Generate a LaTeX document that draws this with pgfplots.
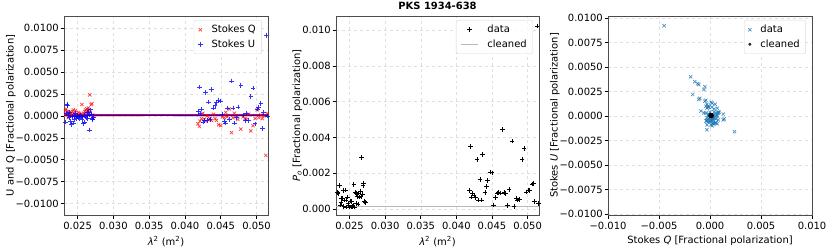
\documentclass[border=0pt]{standalone}
\usepackage{fontspec}
\setmainfont{DejaVu Sans}
\usepackage{pgfplots}
\usepackage{pgfplotstable}
\pgfplotsset{compat=1.18}
\definecolor{tabblue}{HTML}{1F77B4}

\pgfplotstableread{
l Q U P
0.0233 0.0006 -0.0007 0.00092
0.0234 0.0008 0.0003 0.00085
0.0235 0.0002 0.0013 0.00132
0.0236 0.0005 0.0012 0.00130
0.0237 -0.0002 0.0001 0.00022
0.0238 0.0003 -0.0002 0.00036
0.0239 0.0004 0.0004 0.00057
0.0240 0.0000 -0.0006 0.00060
0.0241 0.0002 -0.0010 0.00102
0.0242 0.0001 -0.0001 0.00014
0.0243 0.0005 0.0000 0.00050
0.0244 0.0007 -0.0008 0.00106
0.0245 0.0003 -0.0004 0.00050
0.0246 0.0001 0.0000 0.00010
0.0247 0.0006 0.0003 0.00067
0.0248 -0.0001 -0.0003 0.00032
0.0249 0.0002 0.0001 0.00022
0.0250 0.0000 -0.0001 0.00010
0.0251 0.0004 -0.0002 0.00045
0.0252 0.0001 0.0000 0.00010
0.0253 0.0003 -0.0003 0.00042
0.0254 0.0001 0.0001 0.00014
0.0255 0.0002 0.0000 0.00020
0.0256 0.0013 -0.0004 0.00136
0.0257 0.0000 -0.0001 0.00010
0.0258 0.0001 -0.0009 0.00091
0.0259 0.0003 0.0001 0.00032
0.0260 0.0005 -0.0007 0.00086
0.0261 0.0007 0.0000 0.00070
0.0262 0.0002 -0.0002 0.00028
0.0263 0.0008 0.0004 0.00089
0.0264 0.0006 -0.0003 0.00067
0.0265 0.0009 0.0004 0.00098
0.0266 0.0007 0.0001 0.00071
0.0267 0.0024 -0.0016 0.00288
0.0268 0.0004 0.0007 0.00080
0.0269 0.0013 0.0002 0.00132
0.0270 0.0014 -0.0003 0.00143
0.0271 0.0001 -0.0004 0.00041
0.0272 -0.0003 -0.0002 0.00036
0.0418 -0.0009 0.0005 0.00103
0.0420 -0.0012 0.0033 0.00351
0.0421 -0.0006 0.0003 0.00067
0.0423 -0.0003 0.0008 0.00085
0.0425 0.0003 -0.0007 0.00076
0.0427 -0.0004 -0.0005 0.00064
0.0429 -0.0006 0.0027 0.00277
0.0431 0.0000 -0.0005 0.00050
0.0433 -0.0004 0.0016 0.00165
0.0435 -0.0003 -0.0004 0.00050
0.0437 -0.0005 0.0030 0.00304
0.0440 0.0002 0.0009 0.00092
0.0442 -0.0003 0.0012 0.00124
0.0444 -0.0005 0.0015 0.00158
0.0447 -0.0010 0.0018 0.00206
0.0450 -0.0011 0.0017 0.00202
0.0452 -0.0001 0.0002 0.00022
0.0455 -0.0002 -0.0006 0.00063
0.0457 0.0004 -0.0008 0.00089
0.0459 -0.0001 0.0009 0.00091
0.0462 0.0008 -0.0004 0.00089
0.0465 -0.0019 0.0040 0.00443
0.0467 -0.0002 0.0009 0.00092
0.0469 0.0003 -0.0008 0.00085
0.0472 0.0000 -0.0002 0.00020
0.0474 -0.0004 0.0010 0.00108
0.0478 -0.0015 0.0035 0.00381
0.0481 -0.0001 0.0001 0.00014
0.0484 -0.0003 -0.0005 0.00058
0.0486 -0.0004 0.0003 0.00050
0.0489 0.0002 -0.0005 0.00054
0.0492 -0.0017 0.0022 0.00278
0.0495 -0.0011 0.0032 0.00338
0.0498 -0.0003 -0.0009 0.00095
0.0501 0.0007 0.0008 0.00106
0.0503 -0.0002 0.0010 0.00102
0.0506 0.0001 0.0014 0.00140
0.0508 -0.0003 -0.0014 0.00143
0.0510 0.0000 0.0004 0.00040
0.0513 -0.0045 0.0092 0.01024
0.0515 0.0003 0.0000 0.00030
}\data

\pgfplotsset{
 myax/.style={
  scale only axis, width=204bp, height=199bp,
  tick pos=left, tick align=outside, major tick length=3.5bp,
  grid=major, grid style={dashed, gray!25, line width=0.5bp},
  axis line style={gray!60!black, line width=0.9bp},
  every tick/.style={black, line width=0.6bp},
  tick label style={font=\fontsize{10}{12}\selectfont},
  yticklabel style={inner xsep=1.5bp},
  label style={font=\fontsize{10}{12}\selectfont},
  ylabel style={yshift=-5bp},
  legend style={font=\fontsize{10}{12}\selectfont, draw=gray!30, rounded corners=2bp, fill=white, fill opacity=0.8, text opacity=1, at={(0.97,0.98)}, anchor=north east, row sep=1.5bp, inner xsep=4bp, inner ysep=3bp, /tikz/every odd column/.append style={column sep=7bp}},
  legend cell align=left,
  scaled ticks=false,
 }
}

\begin{document}
\begin{tikzpicture}[x=1bp,y=1bp]
\useasboundingbox (0,0) rectangle (830,249);
% Panel 1
\begin{axis}[myax, at={(64bp,34bp)}, anchor=south west,
  xmin=0.0231, xmax=0.0516, ymin=-0.0113, ymax=0.0114,
  xtick={0.025,0.030,0.035,0.040,0.045,0.050},
  xticklabels={0.025,0.030,0.035,0.040,0.045,0.050},
  ytick={-0.01,-0.0075,-0.005,-0.0025,0,0.0025,0.005,0.0075,0.01},
  yticklabels={−0.0100,−0.0075,−0.0050,−0.0025,0.0000,0.0025,0.0050,0.0075,0.0100},
  xlabel={{\itshape λ}\textsuperscript{2} (m\textsuperscript{2})},
  ylabel={U and Q [Fractional polarization]},
]
\addplot[red!35, line width=3bp, opacity=0.6, forget plot] coordinates {(0.0231,0.0001) (0.0340,0.0001)};
\addplot[blue!30, line width=3bp, opacity=0.6, forget plot] coordinates {(0.0385,0.00005) (0.0516,0.00005)};
\addplot[only marks, mark=x, mark size=2.3bp, red, mark options={line width=0.7bp, opacity=0.75}] table[x=l, y=Q] {\data};
\addlegendentry{Stokes Q}
\addplot[only marks, mark=+, mark size=2.3bp, blue, mark options={line width=0.7bp, opacity=0.8}] table[x=l, y=U] {\data};
\addlegendentry{Stokes U}
\addplot[red, line width=1.2bp, forget plot] coordinates {(0.0231,0.00012) (0.0516,0.00012)};
\addplot[blue, line width=1.1bp, forget plot] coordinates {(0.0231,0.0) (0.0516,0.0)};
\end{axis}
% Panel 2
\begin{axis}[myax, at={(336bp,34bp)}, anchor=south west, width=203bp,
  xmin=0.0231, xmax=0.0516, ymin=-0.00034, ymax=0.0108,
  xtick={0.025,0.030,0.035,0.040,0.045,0.050},
  xticklabels={0.025,0.030,0.035,0.040,0.045,0.050},
  ytick={0,0.002,0.004,0.006,0.008,0.010},
  yticklabels={0.000,0.002,0.004,0.006,0.008,0.010},
  xlabel={{\itshape λ}\textsuperscript{2} (m\textsuperscript{2})},
  ylabel={{\itshape P}\textsubscript{{\itshape o}} [Fractional polarization]},
  title={\bfseries PKS 1934-638},
  title style={font=\fontsize{10}{12}\selectfont, yshift=-3.5bp},
]
\addplot[only marks, mark=+, mark size=2.3bp, black, mark options={line width=0.7bp}] table[x=l, y=P] {\data};
\addlegendentry{data}
\addplot[gray!55, line width=1.3bp] coordinates {(0.0231,0.00012) (0.0516,0.00012)};
\addlegendentry{cleaned}
\end{axis}
% Panel 3
\begin{axis}[myax, at={(608bp,34bp)}, anchor=south west,
  xmin=-0.01, xmax=0.01, ymin=-0.0101, ymax=0.0102,
  xtick={-0.01,-0.005,0,0.005,0.01},
  xticklabels={−0.010,−0.005,0.000,0.005,0.010},
  ytick={-0.01,-0.0075,-0.005,-0.0025,0,0.0025,0.005,0.0075,0.01},
  yticklabels={−0.0100,−0.0075,−0.0050,−0.0025,0.0000,0.0025,0.0050,0.0075,0.0100},
  xlabel={Stokes {\itshape Q} [Fractional polarization]},
  ylabel={Stokes {\itshape U} [Fractional polarization]},
]
\addplot[only marks, mark=x, mark size=2.3bp, tabblue, mark options={line width=0.7bp, opacity=0.8}] table[x=Q, y=U] {\data};
\addlegendentry{data}
\addplot[only marks, mark=*, mark size=2.5bp, black, legend image post style={mark size=1.3bp}] coordinates {(0.0001,0.00005)};
\addlegendentry{cleaned}
\end{axis}
\end{tikzpicture}
\end{document}
